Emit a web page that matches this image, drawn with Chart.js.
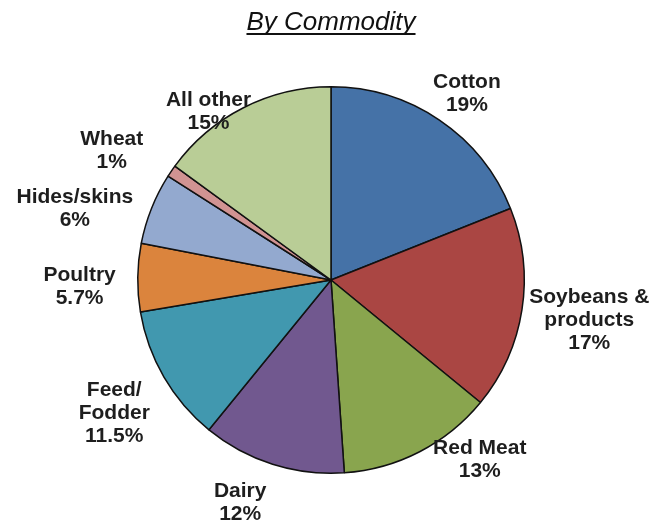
<!DOCTYPE html>
<html>
<head>
<meta charset="utf-8">
<script src="https://cdn.jsdelivr.net/npm/chart.js@4"></script>
<style>
  body { margin: 0; background: #fff; }
  canvas { display: block; }
</style>
</head>
<body>
<canvas id="graficoCommodity" width="658" height="522"></canvas>
<script>
const categories = ["Cotton", "Soybeans & products", "Red Meat", "Dairy", "Feed/Fodder", "Poultry", "Hides/skins", "Wheat", "All other"];
const shares = [19, 17, 13, 12, 11.5, 5.7, 6, 1, 15];
const shareLabels = ["19%", "17%", "13%", "12%", "11.5%", "5.7%", "6%", "1%", "15%"];
const labelLines = [["Cotton"], ["Soybeans &", "products"], ["Red Meat"], ["Dairy"], ["Feed/", "Fodder"], ["Poultry"], ["Hides/skins"], ["Wheat"], ["All other"]];

const colores = ["#4572A7", "#AA4643", "#89A54E", "#71588F", "#4198AF", "#DB843D", "#93A9CF", "#D19392", "#B9CD96"];
// small tweaks so the labels sit where Excel put them
const nudges = [[4, -1], [0, 4], [35, -20], [-22, 9], [-12, 15], [-14, 10], [-15, 12], [-27, -3], [-12, 32]];

const etiquetas = {
  id: "etiquetas",
  afterDatasetsDraw(chart) {
    const ctx = chart.ctx;
    const arcs = chart.getDatasetMeta(0).data;
    const lineH = 23;
    ctx.save();
    ctx.font = "bold 21px 'Liberation Sans', Arial, sans-serif";
    ctx.fillStyle = "#1e1e1e";
    ctx.textAlign = "center";
    ctx.textBaseline = "middle";
    arcs.forEach((arc, i) => {
      const { x, y, startAngle, endAngle, outerRadius } = arc.getProps(["x", "y", "startAngle", "endAngle", "outerRadius"], true);
      const mid = (startAngle + endAngle) / 2;
      const dx = Math.cos(mid), dy = Math.sin(mid);
      const lines = labelLines[i].concat(shareLabels[i]);
      const w = Math.max(...lines.map(t => ctx.measureText(t).width));
      const h = lines.length * lineH;
      const cx = x + dx * (outerRadius + 8) + dx * w / 2 + nudges[i][0];
      const cy = y + dy * (outerRadius + 8) + dy * h / 2 + nudges[i][1];
      lines.forEach((t, k) => {
        ctx.fillText(t, cx, cy - h / 2 + lineH / 2 + k * lineH);
      });
    });

    // title
    ctx.font = "italic 26px 'Liberation Sans', Arial, sans-serif";
    ctx.fillStyle = "#111";
    ctx.textBaseline = "alphabetic";
    const titulo = "By Commodity";
    const tw = ctx.measureText(titulo).width;
    ctx.fillText(titulo, 331, 30);
    ctx.fillRect(331 - tw / 2, 33, tw, 2);
    ctx.restore();
  }
};

new Chart(document.getElementById("graficoCommodity"), {
  type: "pie",
  data: {
    labels: categories,
    datasets: [{
      data: shares,
      backgroundColor: colores,
      borderColor: "#111",
      borderWidth: 1.5
    }]
  },
  options: {
    responsive: false,
    animation: false,
    devicePixelRatio: 1,
    layout: { padding: { top: 86, bottom: 48, left: 137, right: 133 } },
    plugins: {
      legend: { display: false },
      tooltip: { enabled: false }
    }
  },
  plugins: [etiquetas]
});
</script>
</body>
</html>
